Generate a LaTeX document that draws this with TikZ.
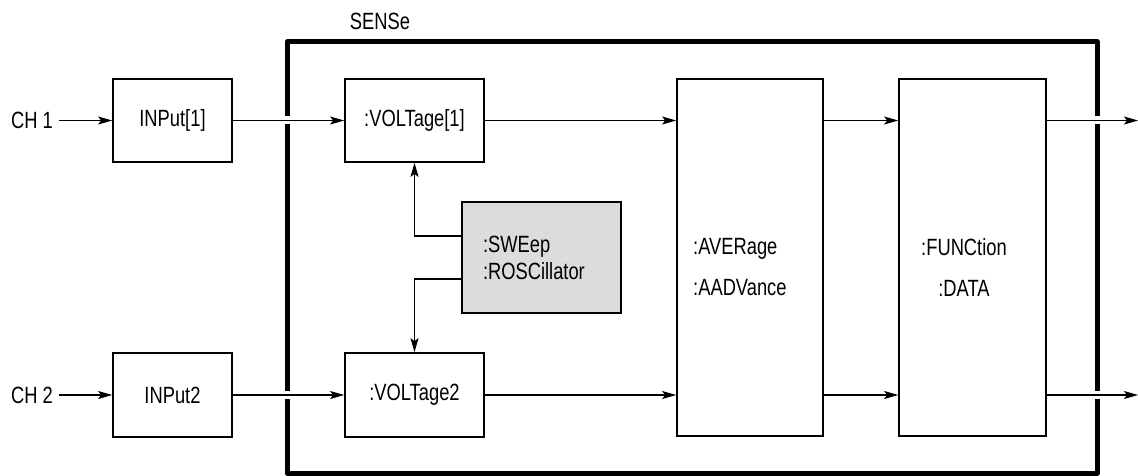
\documentclass[tikz,border=0pt]{standalone}
\usepackage{fontspec}
\setmainfont{Liberation Sans}[FakeStretch=0.78]
\usetikzlibrary{arrows.meta}
\definecolor{sweepgray}{RGB}{220,220,220}
\begin{document}
\begin{tikzpicture}[x=1pt,y=-1pt,
  every node/.style={font=\fontsize{23.5}{27}\selectfont},
  box/.style={draw, line width=1.7pt, inner sep=0pt, align=center},
  lbl/.style={inner sep=0pt, align=left},
  arr/.style={-{Stealth[length=14pt,width=8pt,inset=3pt]}, line width=1.1pt},
  frame/.style={line width=5pt, line join=round},
  gap/.style={fill=white}]
\useasboundingbox (0,0) rectangle (1138,476);

% SENSe frame
\draw[frame] (287,42) rectangle (1097,473);
\node[lbl] (sense) at (380,21) {SENSe};
\fill[gap] (283,116) rectangle (291,124);
\fill[gap] (283,391) rectangle (291,399);
\fill[gap] (1093,116) rectangle (1101,124);
\fill[gap] (1093,391) rectangle (1101,399);

% blocks
\node[box, minimum width=119pt, minimum height=83pt] (in1) at (172.5,120.5) {INPut[1]};
\node[box, minimum width=119pt, minimum height=84pt] (in2) at (172.5,395) {INPut2};
\node[box, minimum width=139pt, minimum height=83pt] (v1) at (414.5,120.5) {:VOLTage[1]};
\node[box, minimum width=139pt, minimum height=84pt] (v2) at (414.5,395) {:VOLTage2};
\node[box, fill=sweepgray, minimum height=111pt, text width=117pt, inner xsep=21pt, align=left] (sw) at (541.5,257.5) {:SWEep\\:ROSCillator};
\node[box, minimum width=146pt, minimum height=357pt] (avg) at (750,257.5) {};
\node[box, minimum width=147pt, minimum height=357pt] (fun) at (972.5,257.5) {};
\node[lbl, anchor=west] (avgtxt) at (693,267.5) {:AVERage\\[14pt]:AADVance};
\node[lbl, align=center] (funtxt) at (964,267.5) {:FUNCtion\\[14pt]:DATA};

% inputs
\node[lbl, anchor=east] (ch1) at (53,120.5) {CH 1};
\node[lbl, anchor=east] (ch2) at (53,395) {CH 2};
\coordinate (out1) at (1138,120.5);
\coordinate (out2) at (1138,395);

% connectors
\draw[arr] ([xshift=6pt]ch1.east) -- (in1.west);
\draw[arr] ([xshift=6pt]ch2.east) -- (in2.west);
\draw[arr] (in1.east) -- (v1.west);
\draw[arr] (in2.east) -- (v2.west);
\draw[arr] (v1.east) -- (avg.west |- v1.east);
\draw[arr] (v2.east) -- (avg.west |- v2.east);
\draw[arr] (avg.east |- v1.east) -- (fun.west |- v1.east);
\draw[arr] (avg.east |- v2.east) -- (fun.west |- v2.east);
\draw[arr] (fun.east |- v1.east) -- (out1);
\draw[arr] (fun.east |- v2.east) -- (out2);
\draw[arr] ([yshift=21.5pt]sw.west) -| (v1.south);
\draw[arr] ([yshift=-21.5pt]sw.west) -| (v2.north);
\end{tikzpicture}
\end{document}
